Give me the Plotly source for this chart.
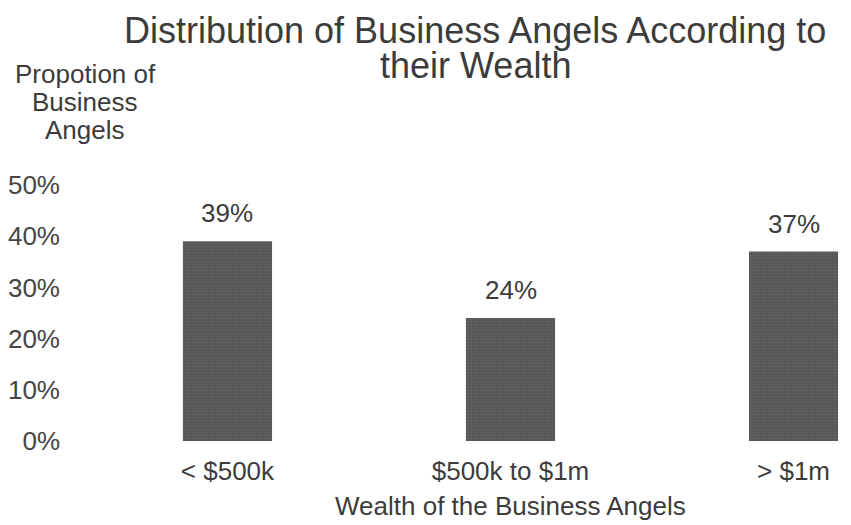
import plotly.graph_objects as go

categories = ["< $500k", "$500k to $1m", "> $1m"]
values = [0.39, 0.24, 0.37]
tick_vals = [0, 0.1, 0.2, 0.3, 0.4, 0.5]
tick_text = ["0%", "10%", "20%", "30%", "40%", "50%"]
title_lines = ["Distribution of Business Angels According to", "their Wealth"]
ytitle_lines = ["Propotion of", "Business", "Angels"]
xtitle = "Wealth of the Business Angels"

# page body has an 8px margin; figure is sized to fill the rest of the window
OFF = 8
W, H = 851 - OFF, 525 - OFF
L, R = 80 - OFF, 0
T = 185 - OFF
PLOT_BOTTOM = 441.5 - OFF
B = H - PLOT_BOTTOM
PW, PH = W - L - R, PLOT_BOTTOM - T

FONT = "Liberation Sans, Arial, sans-serif"
TXT = "#3c3c3c"


def px(xr):
    return (xr - OFF - L) / PW


def py(yr):
    return (PLOT_BOTTOM - (yr - OFF)) / PH


fig = go.Figure()
fig.add_trace(go.Bar(
    x=categories, y=values, width=0.315,
    marker=dict(color="#5a5a5a", line=dict(width=0),
                pattern=dict(shape=".", size=3, solidity=0.25,
                             fgcolor="#747474", bgcolor="#575757")),
    hoverinfo="skip", cliponaxis=False,
))

# value labels
for c, v in zip(categories, values):
    fig.add_annotation(x=c, y=v, xref="x", yref="y", text=f"{round(v * 100)}%",
                       showarrow=False, yanchor="bottom", yshift=11,
                       font=dict(family=FONT, size=26, color=TXT))

# title (two lines)
for line, yr in zip(title_lines, [30, 65]):
    fig.add_annotation(xref="paper", yref="paper", x=px(475.5), y=py(yr),
                       xanchor="center", yanchor="middle", text=line, showarrow=False,
                       font=dict(family=FONT, size=36, color=TXT))

# y-axis title (three lines)
for line, yr in zip(ytitle_lines, [74, 102, 130]):
    fig.add_annotation(xref="paper", yref="paper", x=px(85), y=py(yr),
                       xanchor="center", yanchor="middle", text=line, showarrow=False,
                       font=dict(family=FONT, size=26, color=TXT))

# x-axis title, centred under the middle category
fig.add_annotation(xref="x", yref="paper", x=categories[1], y=py(507),
                   xanchor="center", yanchor="middle", text=xtitle, showarrow=False,
                   font=dict(family=FONT, size=26, color=TXT))

fig.update_layout(
    width=W, height=H,
    margin=dict(l=L, r=R, t=T, b=B, autoexpand=False),
    paper_bgcolor="white", plot_bgcolor="white",
    showlegend=False,
    xaxis=dict(range=[-0.521, 2.203], showgrid=False, zeroline=False, showline=False,
               automargin=False,
               tickfont=dict(family=FONT, size=26, color=TXT), ticklabelstandoff=12),
    yaxis=dict(range=[0, 0.5], tickvals=tick_vals, ticktext=tick_text,
               showgrid=False, zeroline=False, showline=False, automargin=False,
               tickfont=dict(family=FONT, size=26, color="#454545"), ticklabelstandoff=19),
)

fig.write_html("out.html")
